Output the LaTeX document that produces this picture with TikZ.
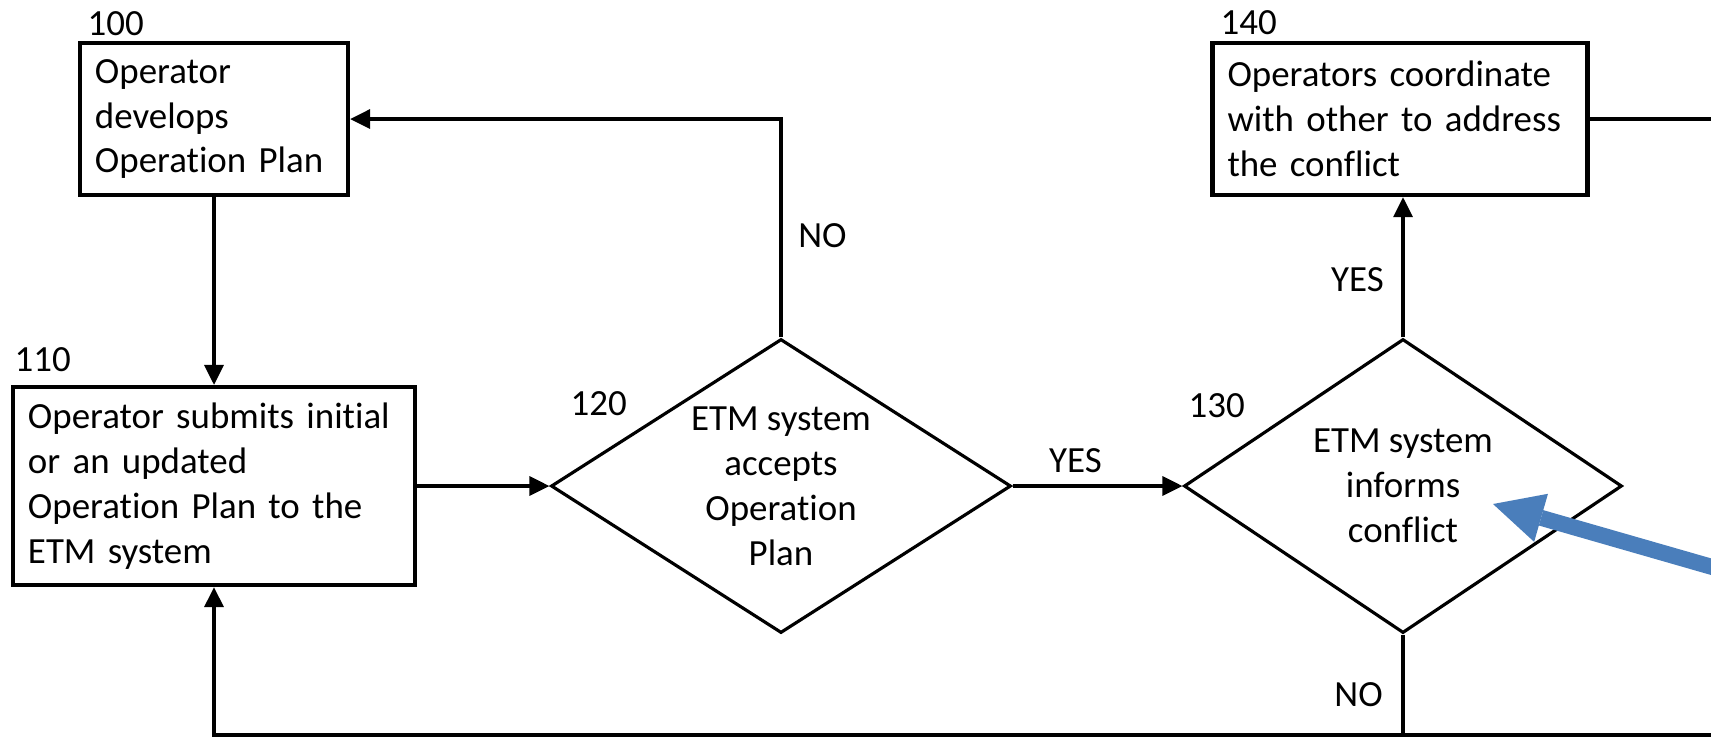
\documentclass[tikz,border=0pt]{standalone}
\usepackage{fontspec}
\setmainfont{Carlito}[Ligatures=NoCommon]
\usetikzlibrary{arrows.meta,%
                shapes.geometric,positioning}
\definecolor{callout}{RGB}{74,126,187}

\begin{document}
\begin{tikzpicture}[font=\fontsize{10.5pt}{12.8pt}\selectfont,line width=0.9pt,
  >={Triangle[length=2mm,width=1.9mm]},
  box/.style={draw,line width=1.2pt,align=left,inner xsep=1.5mm,inner ysep=0pt},
  decision/.style={draw,diamond,align=center,inner sep=0pt,minimum height=29.4mm},
  num/.style={anchor=base west,inner sep=0pt}]
\useasboundingbox (0,0) rectangle (17.11,-7.38);
\node[box,text width=23.8mm,minimum height=15.2mm] (op100) at (2.14,-1.19) {Operator\\develops\\Operation Plan};
\node[box,text width=37.2mm,minimum height=19.8mm] (op110) at (2.14,-4.86) {Operator submits initial\\or an updated\\Operation Plan to the\\ETM system};
\node[decision,aspect=1.56,minimum width=46mm] (op120) at (7.81,-4.86) {ETM system\\accepts\\Operation\\Plan};
\node[decision,aspect=1.49,minimum width=43.8mm] (op130) at (14.03,-4.86) {ETM system\\informs\\conflict};
\node[box,text width=34.5mm,minimum height=15.2mm] (op140) at (14.00,-1.19) {Operators coordinate\\with other to address\\the conflict};
\node[num] (l100) at (0.86,-0.355) {100};
\node[num] (l110) at (0.13,-3.71) {110};
\node[num] (l120) at (5.69,-4.15) {120};
\node[num] (l130) at (11.87,-4.17) {130};
\node[num] (l140) at (12.19,-0.34) {140};
\coordinate (exitR) at (17.3,-1.19);
\coordinate (loopR) at (17.3,-7.35);
\coordinate (loopL) at (2.14,-7.35);
\coordinate (ptrTail) at (17.40,-5.75);
\coordinate (ptrTip) at (14.93,-5.04);
\draw[->] (op100.south) -- (op110.north);
\draw[->] (op110.east) -- (op120.west);
\draw[->] (op120.north) |- node[pos=0.234,right,xshift=0.04cm] (no1) {NO} (op100.east);
\draw[->] (op120.east) -- node[pos=0.37,above] (yes1) {YES} (op130.west);
\draw[->] (op130.north) -- node[pos=0.41,left,xshift=-0.06cm] (yes2) {YES} (op130.north |- op140.south);
\draw (op140.east) -- (exitR);
\draw[->] (op130.south) |- node[pos=0.3,left,xshift=-0.07cm] (no2) {NO} (loopL) -- (op110.south);
\draw (loopR) -- (op130.south |- loopR);
\draw[callout,line width=1.6mm,-{Triangle[length=5mm,width=5mm,line width=0pt]}] (ptrTail) -- (ptrTip);
\end{tikzpicture}
\end{document}
